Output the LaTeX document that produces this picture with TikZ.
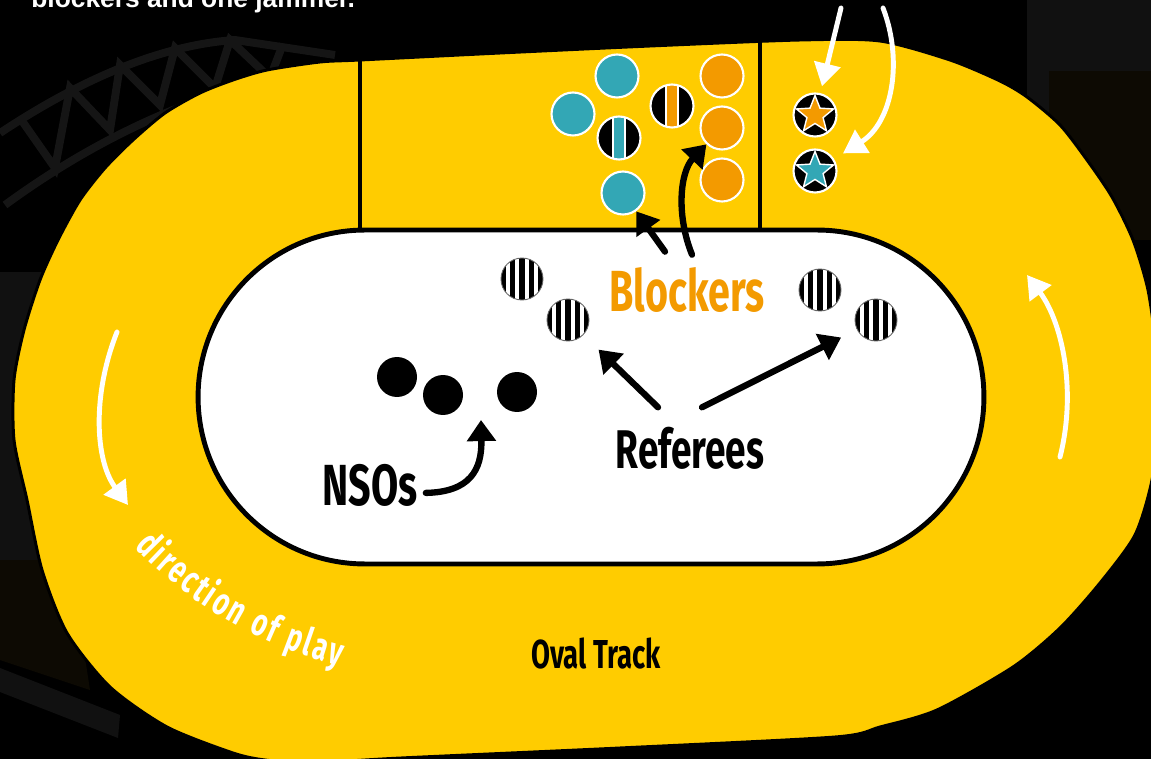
\documentclass[tikz,border=0pt]{standalone}
\usepackage{fontspec}
\setmainfont{Liberation Sans}
\newfontfamily\trackfont[FakeStretch=0.68]{Fira Sans}
\usetikzlibrary{arrows.meta,shapes.geometric,decorations.text}

\definecolor{trackyellow}{HTML}{FFCC00}
\definecolor{teamorange}{HTML}{F39A00}
\definecolor{teamteal}{HTML}{33A7B5}
\definecolor{trussgray}{HTML}{151515}
\definecolor{shadowgray}{HTML}{111111}
\definecolor{shadowbrown}{HTML}{0D0A03}

\begin{document}
\begin{tikzpicture}[x=0.02cm, y=-0.02cm]

    % Styles des noeuds
    \tikzstyle{skater} = [circle, minimum size=0.86cm, inner sep=0pt, draw=white, line width=1.2pt, fill=#1]
    \tikzstyle{pivot} = [circle, minimum size=0.86cm, inner sep=0pt, draw=white, line width=1.2pt, fill=black,
        path picture={\fill[white] ([xshift=-4pt,yshift=-14pt]path picture bounding box.center) rectangle ++(8pt,28pt);
                      \fill[#1] ([xshift=-2.8pt,yshift=-14pt]path picture bounding box.center) rectangle ++(5.6pt,28pt);}]
    \tikzstyle{jammer} = [circle, minimum size=0.86cm, inner sep=0pt, draw=white, line width=1.2pt, fill=black]
    \tikzstyle{jamstar} = [star, star points=5, star point ratio=2.3, minimum size=0.78cm, inner sep=0pt, draw=white, line width=0.8pt, fill=#1]
    \tikzstyle{referee} = [circle, minimum size=0.84cm, inner sep=0pt, fill=white, draw=black!60, line width=0.5pt,
        path picture={\foreach \k in {-2,...,2}
            \fill[black] ([xshift=\k*5.4pt-1.5pt,yshift=-14pt]path picture bounding box.center) rectangle ++(3pt,28pt);}]
    \tikzstyle{nso} = [circle, minimum size=0.8cm, inner sep=0pt, fill=black]
    \tikzstyle{infield} = [rectangle, minimum width=15.72cm, minimum height=6.68cm, rounded corners=3.34cm, fill=white, draw=black, line width=2.8pt]
    \tikzstyle{tag} = [inner sep=0pt, anchor=base, text=black, font=\trackfont\bfseries\fontsize{32}{36}\selectfont]
    \tikzstyle{blkarrow} = [black, line width=3.6pt, line cap=round, -{Triangle[length=12pt,width=16pt]}]
    \tikzstyle{whtarrow} = [white, line width=2.8pt, line cap=round, -{Triangle[length=13pt,width=15pt]}]
    \tikzstyle{truss} = [draw=trussgray, line width=4.5pt]

    \useasboundingbox (0,0) rectangle (1151,759);
    \clip (0,0) rectangle (1151,759);

    % Fond
    \fill[black] (0,0) rectangle (1151,759);
    \fill[shadowgray] (1027,0) rectangle (1151,120);
    \fill[shadowbrown] (1049,71) rectangle (1151,240);
    \fill[shadowgray] (0,272) rectangle (60,560);
    \fill[shadowbrown] (0,560) -- (70,560) -- (90,690) -- (0,660) -- cycle;
    \fill[shadowgray] (0,668) -- (120,715) -- (118,738) -- (0,692) -- cycle;
    \draw[truss] (0,133) .. controls (80,80) and (160,45) .. (235,40) -- (335,55);
    \draw[truss] (5,205) .. controls (80,150) and (180,95) .. (300,72);
    \draw[truss] (20,118) -- (55,168) -- (70,88) -- (110,130) -- (120,65) -- (160,105) -- (175,48)
        -- (215,88) -- (230,40) -- (270,78) -- (283,44);

    \node[anchor=base west, inner sep=0pt, text=white, font=\bfseries\fontsize{15}{18}\selectfont] (intro) at (31,8) {blockers and one jammer.};

    % Piste
    \filldraw[fill=trackyellow, draw=black, line width=1.7pt] plot[smooth cycle, tension=0.45] coordinates {
        (360,60) (500,53) (650,46) (800,40) (880,41) (950,60) (1000,81) (1027,97) (1060,125) (1087,160)
        (1112,197) (1133,240) (1148,290) (1156,350) (1158,420) (1152,480) (1135,535) (1100,583)
        (1060,628) (1013,667) (937,710) (880,727) (835,737) (620,748) (401,758) (310,763) (265,760)
        (233,753) (167,727) (110,687) (67,633) (42,570) (27,500) (14,440) (14,380) (24,330) (40,280)
        (58,240) (80,200) (105,168) (133,140) (165,113) (200,93) (233,80) (267,70) (320,62)};
    \draw[black, line width=2.8pt] (360,58) -- (360,232);
    \draw[black, line width=2.8pt] (760,38) -- (760,232);
    \node[infield] (infield) at (591,397) {};

    % Noeuds
    \node[skater=teamteal] (t1) at (617,76) {};
    \node[skater=teamteal] (t2) at (573,114) {};
    \node[pivot=teamteal] (tp) at (619,138) {};
    \node[skater=teamteal] (t3) at (623,193) {};
    \node[pivot=teamorange] (op) at (672,106) {};
    \node[skater=teamorange] (o1) at (722,76) {};
    \node[skater=teamorange] (o2) at (722,128) {};
    \node[skater=teamorange] (o3) at (722,180) {};
    \node[jammer] (jamO) at (815,115) {};
    \node[jamstar=teamorange] (starO) at (jamO) {};
    \node[jammer] (jamT) at (815,171) {};
    \node[jamstar=teamteal] (starT) at (jamT) {};
    \node[referee] (r1) at (522,279) {};
    \node[referee] (r2) at (568,320) {};
    \node[referee] (r3) at (820,290) {};
    \node[referee] (r4) at (876,320) {};
    \node[nso] (n1) at (397,377) {};
    \node[nso] (n2) at (443,395) {};
    \node[nso] (n3) at (517,392) {};

    % Annotations
    \node[tag, text=teamorange, font=\trackfont\bfseries\fontsize{33}{36}\selectfont] (blk) at (687,312) {Blockers};
    \node[tag, font=\trackfont\bfseries\fontsize{31}{34}\selectfont] (refs) at (690,468) {Referees};
    \node[tag, font=\trackfont\bfseries\fontsize{33}{36}\selectfont] (nsos) at (370,505) {NSOs};
    \node[tag, font=\trackfont\bfseries\fontsize{23}{26}\selectfont] (oval) at (596,668) {Oval Track};
    \coordinate (dirA) at (135,547);
    \coordinate (dirB) at (340,666);
    \path[decorate, decoration={text along path, text align={fit to path}, text color=white,
        text={|\trackfont\bfseries\fontsize{22}{24}\selectfont|direction of play}}]
        (dirA) .. controls (185,600) and (250,642) .. (dirB);

    % Flèches
    \draw[blkarrow] ([shift={(-22,-16)}]blk.north) -- (t3);
    \draw[blkarrow] ([shift={(5,-13)}]blk.north) .. controls (676,215) and (680,172) .. (o2);
    \draw[blkarrow, shorten >=12pt] ([shift={(-32,-19)}]refs.north) -- (r2);
    \draw[blkarrow, shorten >=10pt] ([shift={(12,-19)}]refs.north) -- (r4);
    \coordinate (nsotip) at (481,420);
    \draw[blkarrow] ([shift={(8,8)}]nsos.east) .. controls (470,492) and (482,470) .. (nsotip);

    \coordinate (jamA) at (841,8);
    \coordinate (jamB) at (883,8);
    \draw[whtarrow, shorten >=4pt] (jamA) -- (jamO);
    \draw[whtarrow, shorten >=6pt] (jamB) .. controls (903,60) and (893,122) .. (jamT);
    \coordinate (leftA) at (117,332);
    \coordinate (leftB) at (128,505);
    \draw[whtarrow] (leftA) .. controls (92,395) and (95,460) .. (leftB);
    \coordinate (rightA) at (1060,457);
    \coordinate (rightB) at (1027,275);
    \draw[whtarrow] (rightA) .. controls (1077,390) and (1062,322) .. (rightB);

\end{tikzpicture}
\end{document}
